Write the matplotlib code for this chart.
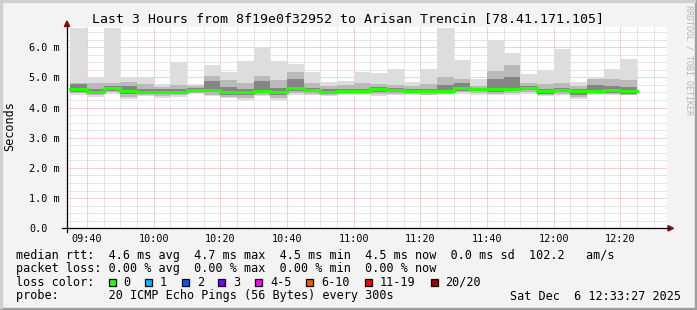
import matplotlib
matplotlib.use("Agg")
import matplotlib.pyplot as plt
from matplotlib.lines import Line2D
from matplotlib.patches import Rectangle, Polygon

W, H = 697, 310
MONO = "DejaVu Sans Mono"

# start of each 5 minute step
times = ["09:35", "09:40", "09:45", "09:50", "09:55", "10:00", "10:05", "10:10",
         "10:15", "10:20", "10:25", "10:30", "10:35", "10:40", "10:45", "10:50",
         "10:55", "11:00", "11:05", "11:10", "11:15", "11:20", "11:25", "11:30",
         "11:35", "11:40", "11:45", "11:50", "11:55", "12:00", "12:05", "12:10",
         "12:15", "12:20"]

# rtt in ms
rtt_median = [4.60, 4.52, 4.63, 4.55, 4.50, 4.52, 4.52, 4.57, 4.57, 4.51, 4.52, 4.55,
              4.51, 4.63, 4.57, 4.52, 4.55, 4.55, 4.60, 4.57, 4.54, 4.53, 4.55, 4.63,
              4.60, 4.61, 4.60, 4.66, 4.53, 4.58, 4.53, 4.55, 4.57, 4.53]
rtt_max = [6.63, 4.98, 6.63, 5.02, 4.99, 4.78, 5.51, 4.77, 5.40, 5.18, 5.53, 6.00,
           5.53, 5.44, 5.17, 4.84, 4.87, 5.18, 5.15, 5.27, 4.84, 5.27, 6.63, 5.57,
           4.93, 6.22, 5.81, 5.10, 5.24, 5.93, 4.86, 5.02, 5.27, 5.60]
rtt_p90 = [4.82, 4.80, 4.80, 4.85, 4.78, 4.68, 4.75, 4.70, 5.05, 4.90, 4.80, 5.05,
           4.90, 5.17, 4.80, 4.72, 4.75, 4.80, 4.78, 4.75, 4.70, 4.78, 5.02, 4.93,
           4.72, 5.21, 5.40, 4.80, 4.78, 4.82, 4.70, 4.95, 4.95, 4.90]
rtt_p75 = [4.78, 4.62, 4.72, 4.70, 4.62, 4.60, 4.62, 4.64, 4.87, 4.68, 4.62, 4.87,
           4.65, 4.95, 4.65, 4.60, 4.62, 4.62, 4.68, 4.65, 4.60, 4.62, 4.75, 4.80,
           4.66, 4.95, 5.00, 4.72, 4.62, 4.66, 4.62, 4.75, 4.72, 4.68]
rtt_p25 = [4.52, 4.45, 4.55, 4.45, 4.45, 4.45, 4.47, 4.52, 4.50, 4.40, 4.42, 4.48,
           4.40, 4.55, 4.50, 4.47, 4.50, 4.48, 4.52, 4.50, 4.48, 4.47, 4.48, 4.55,
           4.53, 4.52, 4.53, 4.58, 4.45, 4.50, 4.42, 4.47, 4.48, 4.45]
rtt_p10 = [4.47, 4.40, 4.50, 4.35, 4.42, 4.38, 4.42, 4.48, 4.43, 4.35, 4.32, 4.42,
           4.32, 4.48, 4.45, 4.42, 4.46, 4.44, 4.45, 4.45, 4.45, 4.43, 4.44, 4.50,
           4.47, 4.46, 4.48, 4.52, 4.41, 4.45, 4.34, 4.44, 4.44, 4.43]
rtt_min = [4.40, 4.35, 4.45, 4.29, 4.37, 4.32, 4.36, 4.45, 4.37, 4.32, 4.25, 4.37,
           4.25, 4.43, 4.40, 4.37, 4.42, 4.40, 4.38, 4.40, 4.42, 4.40, 4.40, 4.45,
           4.42, 4.40, 4.42, 4.45, 4.37, 4.40, 4.28, 4.40, 4.40, 4.40]

y_ticks = [0, 1, 2, 3, 4, 5, 6]
y_labels = ["0.0", "1.0 m", "2.0 m", "3.0 m", "4.0 m", "5.0 m", "6.0 m"]
x_ticks = ["09:40", "10:00", "10:20", "10:40", "11:00", "11:20", "11:40", "12:00", "12:20"]

loss_labels = ["0", "1", "2", "3", "4-5", "6-10", "11-19", "20/20"]
loss_colors = ["#26ff00", "#00b8ff", "#0059ff", "#7e00ff", "#ff00ff", "#ff5500",
               "#ff0000", "#a10000"]


def mins(t):
    h, m = t.split(":")
    return int(h) * 60 + int(m)


def fx(x):
    return x / W


def fy(y):
    return 1 - y / H


starts = [mins(t) for t in times]
fig = plt.figure(figsize=(W / 100, H / 100), dpi=100, facecolor="#f3f3f3")

x0, x1, ytop, ybot = 67, 667, 27, 228.3
ax = fig.add_axes([fx(x0), fy(ybot), (x1 - x0) / W, (ybot - ytop) / H])
ax.set_facecolor("white")
ax.set_xlim(mins("09:34"), mins("12:34"))
ax.set_ylim(0, (ybot - ytop) / 30.2)
for s in ax.spines.values():
    s.set_visible(False)

ax.set_xticks([mins(t) for t in x_ticks])
ax.set_xticklabels(x_ticks)
ax.set_xticks(range(mins("09:35"), mins("12:34"), 5), minor=True)
ax.set_yticks(y_ticks)
ax.set_yticklabels(y_labels)
ax.set_yticks([v * 0.25 for v in range(27)], minor=True)
ax.tick_params(which="both", length=0)
ax.tick_params(axis="x", pad=4, labelsize=7.3)
ax.tick_params(axis="y", pad=27.1, labelsize=7.3)
for lab in ax.get_xticklabels() + ax.get_yticklabels():
    lab.set_fontfamily(MONO)
for lab in ax.get_yticklabels():
    lab.set_ha("left")

ax.set_axisbelow(True)
ax.grid(which="minor", color="#cfcfcf", linestyle=(0, (1, 1)), linewidth=0.72)
ax.grid(which="major", color="#f0a0a0", linestyle=(0, (1, 1)), linewidth=0.72)

# smoke
hi_lo = [(rtt_min, rtt_max, "#dddddd"), (rtt_p10, rtt_p90, "#bababa"),
         (rtt_p25, rtt_p75, "#858585")]
for lo, hi, col in hi_lo:
    ax.bar(starts, [h - l for h, l in zip(hi, lo)], bottom=lo, width=5,
           align="edge", color=col, linewidth=0)

ax.step(starts + [starts[-1] + 5], rtt_median + [rtt_median[-1]], where="post",
        color=loss_colors[0], linewidth=2.2, solid_joinstyle="miter")

# axes with arrows
fig.add_artist(Line2D([fx(62), fx(669)], [fy(ybot)] * 2, color="black", lw=0.9))
fig.add_artist(Line2D([fx(x0)] * 2, [fy(232), fy(25)], color="black", lw=0.9))
fig.add_artist(Polygon([(fx(67), fy(21)), (fx(64.3), fy(26.5)), (fx(69.7), fy(26.5))],
                       closed=True, color="#8b1010", transform=fig.transFigure))
fig.add_artist(Polygon([(fx(673.5), fy(228.3)), (fx(668), fy(225.6)), (fx(668), fy(231))],
                       closed=True, color="#8b1010", transform=fig.transFigure))

# texts
fig.text(fx(348), fy(19), "Last 3 Hours from 8f19e0f32952 to Arisan Trencin [78.41.171.105]",
         family=MONO, fontsize=9.5, ha="center", va="center")
fig.text(fx(10), fy(126), "Seconds", family=MONO, fontsize=8.5, rotation=90,
         ha="center", va="center")
fig.text(fx(688.5), fy(60), "RRDTOOL / TOBI OETIKER", family=MONO, fontsize=6,
         rotation=270, ha="center", va="center", color="#b4b4b4")

lines = [
    (255, "median rtt:  4.6 ms avg  4.7 ms max  4.5 ms min  4.5 ms now  0.0 ms sd  102.2   am/s"),
    (268.5, "packet loss: 0.00 % avg  0.00 % max  0.00 % min  0.00 % now"),
    (282, "loss color:"),
    (296, "probe:       20 ICMP Echo Pings (56 Bytes) every 300s"),
]
for y, s in lines:
    fig.text(fx(16), fy(y), s, family=MONO, fontsize=8.5, ha="left", va="center")
fig.text(fx(681), fy(296), "Sat Dec  6 12:33:27 2025", family=MONO, fontsize=8.5,
         ha="right", va="center")

label_x = [123.3, 160, 197, 233, 270, 321, 380, 445.3]
for lx, lab, col in zip(label_x, loss_labels, loss_colors):
    fig.add_artist(Rectangle((fx(lx - 14.6), fy(285.7)), 7 / W, 7 / H, facecolor=col,
                             edgecolor="black", linewidth=0.9, transform=fig.transFigure))
    fig.text(fx(lx), fy(282), lab, family=MONO, fontsize=8.5, ha="left", va="center")

# frame
fig.add_artist(Rectangle((0, 0), 1, 2 / H, color="#9e9e9e", transform=fig.transFigure))
fig.add_artist(Rectangle((1 - 2 / W, 0), 2 / W, 1, color="#9e9e9e", transform=fig.transFigure))
fig.add_artist(Rectangle((0, 1 - 2 / H), 1 - 2 / W, 2 / H, color="#d0d0d0", transform=fig.transFigure))
fig.add_artist(Rectangle((0, 2 / H), 2 / W, 1 - 4 / H, color="#d0d0d0", transform=fig.transFigure))

fig.savefig("out.png", dpi=100, facecolor=fig.get_facecolor())
